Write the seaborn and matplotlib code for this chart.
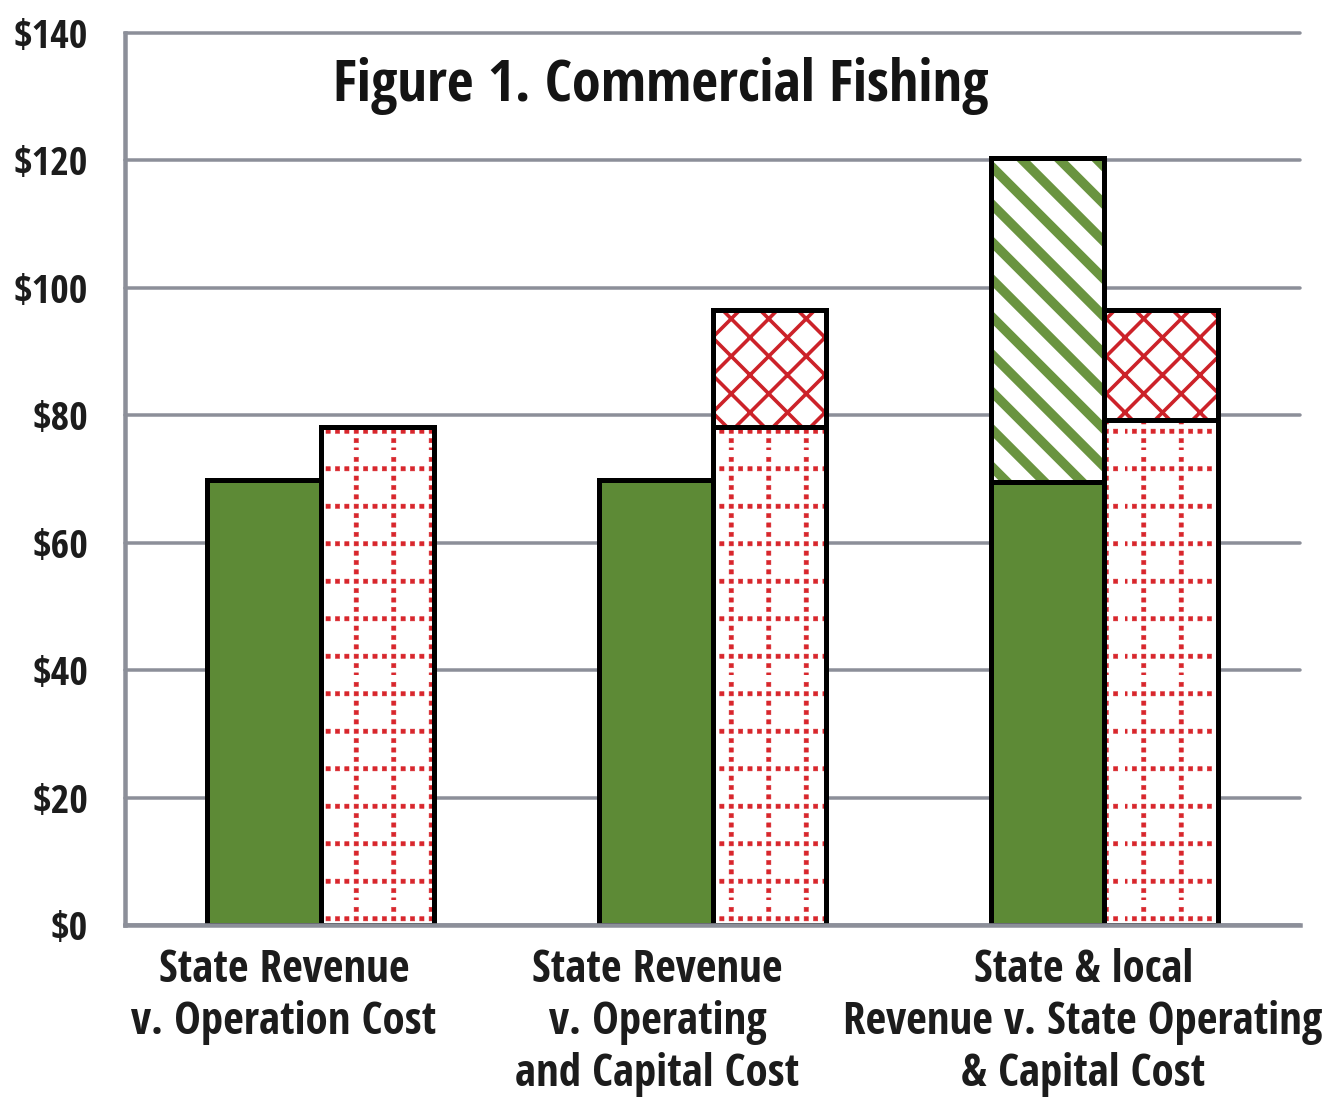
import os
import numpy as np
import pandas as pd
import matplotlib
matplotlib.use("Agg")
import matplotlib.pyplot as plt
import matplotlib.hatch as mhatch
from matplotlib.path import Path
from matplotlib import font_manager as fm
from matplotlib.font_manager import FontProperties
from matplotlib.transforms import ScaledTranslation
import seaborn as sns

# ---------------- data ----------------
categories = [
    "State Revenue\nv. Operation Cost",
    "State Revenue\nv. Operating\nand Capital Cost",
    "State & local\nRevenue v. State Operating\n& Capital Cost",
]
revenue_state = [69.8, 69.8, 69.5]
revenue_local = [0.0, 0.0, 50.9]
cost_operating = [78.2, 78.2, 79.3]
cost_capital = [0.0, 18.3, 17.2]
ytick_values = [0, 20, 40, 60, 80, 100, 120, 140]
ytick_labels = ["\\$0", "\\$20", "\\$40", "\\$60", "\\$80", "\\$100", "\\$120", "\\$140"]
title_text = "Figure 1. Commercial Fishing"

# ---------------- style helpers ----------------
DPI = 225
W, H = 1329, 1102


def px(v):
    return v * 72.0 / DPI


GREEN = "#5d8a36"
GREEN_STRIPE = "#6a9440"
RED_DOT = "#d8262c"
RED_CROSS = "#cc2229"
GRID = "#8c8f99"
TEXT = "#1c1c1c"


# custom dotted-grid hatch registered on '.' (replaces the filled small circles)
class DottedGrid(mhatch.HatchPatternBase):
    filled = True

    def __init__(self, hatch, density):
        self.n = int(hatch.count(".") * density)
        self.m = 4
        if self.n:
            self.num_dots = self.n * self.n * self.m + self.n * self.n * (self.m - 1)
            self.num_vertices = self.num_dots * 5
        else:
            self.num_vertices = 0

    def set_vertices_and_codes(self, vertices, codes):
        n, m = self.n, self.m
        h = 0.0095
        step = 1.0 / (n * m)
        centers = []
        for i in range(n):
            c = (i + 0.5) / n
            for j in range(n * m):
                pos = ((j + 0.5 * m) * step) % 1.0
                centers.append((pos, c))
                if j % m != 0:
                    centers.append((c, pos))
        sq = np.array([[-h, -h], [h, -h], [h, h], [-h, h], [-h, -h]])
        verts = np.concatenate([sq + np.array(c) for c in centers])
        vertices[:] = verts
        codes[:] = np.tile([Path.MOVETO, Path.LINETO, Path.LINETO,
                            Path.LINETO, Path.CLOSEPOLY], len(centers))


mhatch._hatch_types = [t for t in mhatch._hatch_types
                       if t is not mhatch.SmallFilledCircles] + [DottedGrid]


def set_hatch_lw(patch, lw):
    if hasattr(patch, "set_hatch_linewidth"):
        patch.set_hatch_linewidth(lw)
    orig = patch.draw

    def draw(renderer, _orig=orig, _lw=lw):
        with plt.rc_context({"hatch.linewidth": _lw}):
            _orig(renderer)

    patch.draw = draw


FAM_PREF = ["Noto Sans", "Open Sans", "Roboto", "Liberation Sans Narrow", "DejaVu Sans"]


def pick_font(target_weight):
    best = None
    for f in fm.fontManager.ttflist:
        base = os.path.basename(f.fname)
        label = base + " " + f.name + " " + str(f.stretch)
        if any(b in label for b in ("Mono", "mono", "Serif", "Display", "Symbol", "Math", "CJK")):
            continue
        fi = next((k for k, fp in enumerate(FAM_PREF) if f.name.startswith(fp)), None)
        if fi is None:
            continue
        if "Condensed" in label or "condensed" in label:
            if "Semi" in label or "semi" in label:
                sp = 2
            elif "Extra" in label or "extra" in label:
                sp = 0
            elif "Ultra" in label or "ultra" in label:
                sp = 3
            else:
                sp = 1
        elif "Narrow" in label:
            sp = 1
        else:
            continue
        if f.style != "normal" or "Italic" in base:
            continue
        w = f.weight if isinstance(f.weight, (int, float)) else fm.weight_dict.get(f.weight, 400)
        key = (abs(w - target_weight) // 100, sp, fi)
        if best is None or key < best[0]:
            best = (key, f.fname)
    return best[1] if best else None


def fprops(weight, size):
    path = pick_font(weight)
    if path:
        return FontProperties(fname=path, size=size)
    return FontProperties(family="DejaVu Sans", weight="bold" if weight > 500 else "normal",
                          stretch="condensed", size=size)


# ---------------- figure ----------------
sns.set_style("white")
plt.rcParams["font.family"] = ["DejaVu Sans"]

fig = plt.figure(figsize=(W / DPI, H / DPI), dpi=DPI)
ax = fig.add_axes([125 / W, 1 - 925 / H, 1175 / W, 892 / H])
renderer = fig.canvas.get_renderer()


def fit(fp, sample, target_px):
    """Scale a font so that `sample` is target_px wide."""
    w, h, d = renderer.get_text_width_height_descent(sample, fp, ismath=False)
    fp = fp.copy()
    fp.set_size(fp.get_size_in_points() * target_px / w)
    return fp


sides = ["Revenue", "Cost"]
tot_rev = [a + b for a, b in zip(revenue_state, revenue_local)]
tot_cost = [a + b for a, b in zip(cost_operating, cost_capital)]
df_total = pd.DataFrame({"category": categories * 2,
                         "side": ["Revenue"] * 3 + ["Cost"] * 3,
                         "value": tot_rev + tot_cost})
df_base = pd.DataFrame({"category": categories * 2,
                        "side": ["Revenue"] * 3 + ["Cost"] * 3,
                        "value": revenue_state + cost_operating})

EDGE_LW = px(5)


def draw_layer(df):
    n0 = len(ax.patches)
    sns.barplot(data=df, x="category", y="value", hue="side", order=categories,
                hue_order=sides, width=0.58, dodge=True, errorbar=None,
                legend=False, saturation=1, ax=ax)
    out = []
    for p in ax.patches[n0:]:
        cx = p.get_x() + p.get_width() / 2
        cat = int(round(cx))
        side = "Revenue" if cx < cat else "Cost"
        out.append((p, side))
    return out


# layer 1: totals carrying the top-segment hatches
for p, side in draw_layer(df_total):
    p.set_facecolor("white")
    p.set_linewidth(0)
    p.set_zorder(2)
    if side == "Revenue":
        p.set_edgecolor(GREEN_STRIPE)
        p.set_hatch("\\\\")
        set_hatch_lw(p, px(9.5))
    else:
        p.set_edgecolor(RED_CROSS)
        p.set_hatch("xx")
        set_hatch_lw(p, px(3.6))

# layer 2: base values
for p, side in draw_layer(df_base):
    p.set_zorder(3)
    p.set_linewidth(0)
    if side == "Revenue":
        p.set_facecolor(GREEN)
        p.set_edgecolor(GREEN)
    else:
        p.set_facecolor("white")
        p.set_edgecolor(RED_DOT)
        p.set_hatch(".")
        set_hatch_lw(p, px(0.5))

# layer 3: black outlines of base and totals
for df in (df_base, df_total):
    for p, side in draw_layer(df):
        p.set_facecolor("none")
        p.set_edgecolor("black")
        p.set_linewidth(EDGE_LW)
        p.set_zorder(4)
        p.set_joinstyle("miter")

# ---------------- axes styling ----------------
ax.set_xlim(-0.5, 2.5)
ax.set_ylim(0, 140)
ax.set_axisbelow(True)
ax.yaxis.grid(True, color=GRID, linewidth=px(3.5))
ax.xaxis.grid(False)
for gl in ax.get_ygridlines():
    gl.set_clip_on(False)

for s in ("top", "right"):
    ax.spines[s].set_visible(False)
for s in ("left", "bottom"):
    ax.spines[s].set_color(GRID)
    ax.spines[s].set_linewidth(px(4.5))
    ax.spines[s].set_zorder(5)

lab_fp = fit(fprops(600, px(48)), "v. Operation Cost", 305)
ytick_fp = fit(fprops(600, px(44)), "$140", 74)
title_fp = fit(fprops(800, px(68)), title_text, 655)

ax.set_yticks(ytick_values)
ax.set_yticklabels(ytick_labels, fontproperties=ytick_fp, color=TEXT)
ax.tick_params(axis="y", direction="out", length=px(9), width=px(4), color=GRID, pad=px(28))

ax.set_xticks([0, 1, 2])
ax.set_xticklabels(categories, fontproperties=lab_fp, color=TEXT, linespacing=1.2,
                   multialignment="center")
ax.set_xticks([-0.5, 0.5, 1.5, 2.5], minor=True)
ax.tick_params(axis="x", which="major", length=0, pad=px(23))
ax.tick_params(axis="x", which="minor", direction="out", length=px(10), width=px(4), color=GRID)
ax.set_xlabel("")
ax.set_ylabel("")

label_shift_px = [-37, -55, -21]
for lab, dx in zip(ax.get_xticklabels(), label_shift_px):
    lab.set_transform(lab.get_transform() + ScaledTranslation(dx / DPI, 0, fig.dpi_scale_trans))

ax.text(0.456, 0.941, title_text, transform=ax.transAxes, ha="center", va="center",
        fontproperties=title_fp, color="#141414")

fig.savefig("out.png", dpi=DPI, facecolor="white")
